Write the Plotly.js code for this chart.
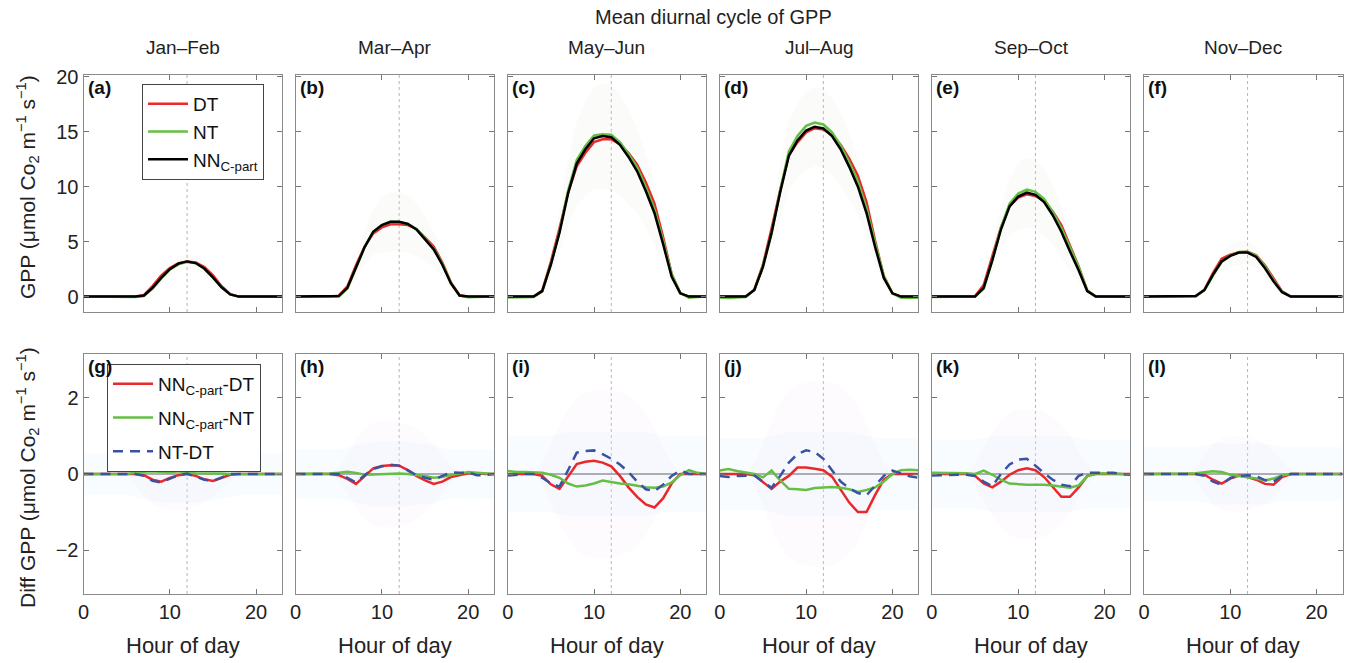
<!DOCTYPE html>
<html><head><meta charset="utf-8">
<script src="https://cdn.plot.ly/plotly-3.0.1.min.js"></script>
<style>html,body{margin:0;padding:0;background:#fff}#chart{width:1348px;height:663px}</style>
</head><body><div id="chart"></div>
<script>
// ---------- categories & ticks ----------
const hours = [0,1,2,3,4,5,6,7,8,9,10,11,12,13,14,15,16,17,18,19,20,21,22,23];
const periods = ["Jan–Feb","Mar–Apr","May–Jun","Jul–Aug","Sep–Oct","Nov–Dec"];
const topLetters = ["(a)","(b)","(c)","(d)","(e)","(f)"];
const bottomLetters = ["(g)","(h)","(i)","(j)","(k)","(l)"];
const hourTicks = [0,10,20];
const gppTicks = [0,5,10,15,20];
const diffTicks = [-2,0,2];

// ---------- GPP mean diurnal cycles ----------
const dtJanFeb = [0,0,0,0,0,0,0,0.13,0.95,1.9,2.6,3.03,3.2,3.1,2.69,1.93,0.95,0.22,0,0,0,0,0,0];
const ntJanFeb = [0,0,0,0,0,0,-0.03,0.04,0.73,1.65,2.46,2.93,3.17,3.03,2.53,1.73,0.84,0.2,0,0,0,0,0,0];
const nnJanFeb = [0,0,0,0,0,0,0,0.1,0.8,1.7,2.5,3.0,3.2,3.05,2.55,1.75,0.85,0.2,0,0,0,0,0,0];

const dtMarApr = [0,0,0,0,0,0.08,0.93,2.86,4.55,5.75,6.29,6.57,6.58,6.5,6.15,5.37,4.56,3.1,1.28,0.12,-0.02,-0.02,0,0];
const ntMarApr = [0,0,0,0,-0.01,0.02,0.74,2.57,4.52,5.91,6.5,6.8,6.79,6.6,6.13,5.25,4.4,2.98,1.23,0.08,-0.05,-0.03,-0.02,0];
const nnMarApr = [0,0,0,0,0,0.05,0.8,2.6,4.5,5.9,6.5,6.8,6.8,6.6,6.1,5.2,4.3,2.9,1.2,0.1,0,0,0,0];

const dtMayJun = [0,0,0,0,0.55,3.17,6.19,9.45,11.84,13.08,14.05,14.3,14.3,13.85,13.05,12.0,10.4,8.48,5.44,2.05,0.3,0,0,0];
const ntMayJun = [-0.08,-0.05,-0.05,-0.04,0.47,2.92,5.9,9.65,12.43,13.7,14.65,14.77,14.72,14.05,12.97,11.72,9.95,7.96,5.13,2.02,0.33,-0.1,-0.03,0];
const nnMayJun = [0,0,0,0,0.5,2.9,5.8,9.4,12.1,13.4,14.4,14.6,14.5,13.8,12.7,11.4,9.6,7.6,4.8,1.8,0.3,0,0,0];

const dtJulAug = [0,0,0,0,0.63,2.9,6.19,9.7,12.85,14.03,14.93,15.31,15.2,14.67,13.8,12.55,11.0,8.6,5.05,1.85,0.3,0,0,0];
const ntJulAug = [-0.09,-0.13,-0.08,-0.04,0.6,2.79,5.71,9.67,13.19,14.6,15.52,15.82,15.65,14.94,13.76,12.2,10.47,8.02,4.85,1.9,0.3,-0.1,-0.11,-0.1];
const nnJulAug = [0,0,0,0,0.6,2.7,5.8,9.5,12.8,14.2,15.1,15.45,15.3,14.6,13.4,11.8,10.0,7.6,4.5,1.7,0.3,0,0,0];

const dtSepOct = [0,0,0,0,0,0.05,1.05,3.65,6.3,8.22,9.0,9.3,9.15,8.68,7.75,6.5,4.7,2.75,0.55,0,0,0,0,0];
const ntSepOct = [-0.03,-0.03,-0.03,-0.02,-0.02,0,0.71,3.32,6.25,8.45,9.37,9.73,9.53,8.88,7.7,6.23,4.46,2.7,0.56,-0.02,-0.02,-0.01,0,0.02];
const nnSepOct = [0,0,0,0,0,0,0.8,3.3,6.1,8.2,9.1,9.45,9.25,8.6,7.4,5.9,4.1,2.4,0.5,0,0,0,0,0];

const dtNovDec = [0,0,0,0,0,0,0.05,0.62,2.15,3.45,3.82,4.04,4.08,3.75,2.86,1.68,0.48,0,0,0,0,0,0,0];
const ntNovDec = [0,0,0,0,0,-0.01,0.03,0.56,1.93,3.15,3.72,4.05,4.08,3.72,2.77,1.52,0.43,0,0,0,0,0,0,0];
const nnNovDec = [0,0,0,0,0,0,0.05,0.6,2.0,3.2,3.7,4.0,4.0,3.6,2.6,1.4,0.4,0,0,0,0,0,0,0];

// spread (shaded band) of GPP
const gppSpreadJanFeb = [0,0,0,0,0,0,0,0.1,0.3,0.5,0.6,0.7,0.7,0.7,0.6,0.5,0.3,0.1,0,0,0,0,0,0];
const gppSpreadMarApr = [0,0,0,0,0,0.1,0.4,1.0,1.6,2.1,2.5,2.7,2.7,2.6,2.4,2.1,1.6,1.1,0.5,0.1,0,0,0,0];
const gppSpreadMayJun = [0,0,0,0,0.3,1.0,2.0,3.0,3.8,4.3,4.6,4.8,4.8,4.6,4.3,3.9,3.4,2.8,1.9,0.9,0.2,0,0,0];
const gppSpreadJulAug = [0,0,0,0,0.3,1.0,1.8,2.6,3.1,3.4,3.6,3.6,3.6,3.5,3.3,3.0,2.6,2.1,1.5,0.7,0.2,0,0,0];
const gppSpreadSepOct = [0,0,0,0,0,0,0.4,1.2,2.0,2.6,3.0,3.2,3.2,3.0,2.7,2.3,1.8,1.1,0.4,0,0,0,0,0];
const gppSpreadNovDec = [0,0,0,0,0,0,0,0.2,0.5,0.8,1.0,1.1,1.1,1.0,0.8,0.5,0.2,0,0,0,0,0,0,0];

// ---------- differences ----------
const nnDtJanFeb = [0,0,0,0,0,0,0,-0.03,-0.15,-0.2,-0.1,-0.03,0,-0.05,-0.14,-0.18,-0.1,-0.02,0,0,0,0,0,0];
const nnDtMarApr = [0,0,0,0,0,-0.03,-0.13,-0.26,-0.05,0.15,0.21,0.23,0.22,0.1,-0.05,-0.17,-0.26,-0.2,-0.08,-0.02,0.02,0.02,0,0];
const nnDtMayJun = [0,0,0,0,-0.05,-0.27,-0.39,-0.05,0.26,0.32,0.35,0.3,0.2,-0.05,-0.35,-0.6,-0.8,-0.88,-0.64,-0.25,0,0,0,0];
const nnDtJulAug = [0,0,0,0,-0.03,-0.2,-0.39,-0.2,-0.05,0.17,0.17,0.14,0.1,-0.07,-0.4,-0.75,-1.0,-1.0,-0.55,-0.15,0,0,0,0];
const nnDtSepOct = [0,0,0,0,0,-0.05,-0.25,-0.35,-0.2,-0.02,0.1,0.15,0.1,-0.08,-0.35,-0.6,-0.6,-0.35,-0.05,0,0,0,0,0];
const nnDtNovDec = [0,0,0,0,0,0,0,-0.02,-0.15,-0.25,-0.12,-0.04,-0.08,-0.15,-0.26,-0.28,-0.08,0,0,0,0,0,0,0];

const nnNtJanFeb = [0,0,0,0,0,0,0.03,0.06,0.07,0.05,0.04,0.07,0.03,0.02,0.02,0.02,0.01,0,0,0,0,0,0,0];
const nnNtMarApr = [0,0,0,0,0.01,0.03,0.06,0.03,-0.02,-0.01,0,0,0.01,0,-0.03,-0.05,-0.1,-0.08,-0.03,0.02,0.05,0.03,0.02,0];
const nnNtMayJun = [0.08,0.05,0.05,0.04,0.03,-0.02,-0.1,-0.25,-0.33,-0.3,-0.25,-0.17,-0.22,-0.25,-0.27,-0.32,-0.35,-0.36,-0.33,-0.22,-0.03,0.1,0.03,0];
const nnNtJulAug = [0.09,0.13,0.08,0.04,0,-0.09,0.09,-0.17,-0.39,-0.4,-0.42,-0.37,-0.35,-0.34,-0.36,-0.4,-0.47,-0.42,-0.35,-0.2,0,0.1,0.11,0.1];
const nnNtSepOct = [0.03,0.03,0.03,0.02,0.02,0,0.09,-0.02,-0.15,-0.25,-0.27,-0.28,-0.28,-0.28,-0.3,-0.33,-0.36,-0.3,-0.06,0.02,0.02,0.01,0,-0.02];
const nnNtNovDec = [0,0,0,0,0,0.01,0.02,0.04,0.07,0.05,-0.02,-0.05,-0.08,-0.12,-0.17,-0.12,-0.03,0,0,0,0,0,0,0];

const ntDtJanFeb = [0,0,0,0,0,0,0,-0.05,-0.18,-0.22,-0.13,-0.03,0.01,-0.06,-0.15,-0.18,-0.08,0,0,0,0,0,0,0];
const ntDtMarApr = [0,0,0,0,0,0,-0.1,-0.22,-0.03,0.13,0.2,0.24,0.22,0.1,-0.03,-0.1,-0.15,-0.05,0.04,0.03,0.04,-0.03,-0.03,0];
const ntDtMayJun = [-0.04,-0.02,0,0,-0.1,-0.25,-0.33,0.1,0.56,0.6,0.62,0.52,0.4,0.25,0.05,-0.2,-0.4,-0.45,-0.28,-0.05,0.09,0,0,0];
const ntDtJulAug = [-0.05,-0.08,-0.05,-0.05,-0.04,-0.2,-0.36,-0.05,0.3,0.52,0.62,0.58,0.4,0.1,-0.2,-0.37,-0.5,-0.56,-0.3,-0.05,0.09,0.02,-0.06,-0.1];
const ntDtSepOct = [-0.04,-0.03,-0.03,-0.02,-0.02,-0.05,-0.2,-0.32,0,0.25,0.38,0.4,0.22,0.02,-0.15,-0.28,-0.32,-0.05,0.03,0.03,0.02,0.03,0,-0.02];
const ntDtNovDec = [0,0,0,0,0,0,0,-0.05,-0.2,-0.28,-0.1,-0.05,-0.03,-0.06,-0.16,-0.2,-0.05,0,0,0,0,0,0,0];

// spread bands of differences (half widths)
const diffSpreadAJanFeb = [0.55,0.55,0.55,0.55,0.55,0.55,0.6,0.65,0.7,0.75,0.75,0.75,0.75,0.75,0.7,0.7,0.65,0.6,0.55,0.55,0.55,0.55,0.55,0.55];
const diffSpreadAMarApr = [0.65,0.65,0.65,0.65,0.65,0.65,0.7,0.75,0.8,0.85,0.85,0.85,0.85,0.85,0.8,0.8,0.75,0.7,0.65,0.65,0.65,0.65,0.65,0.65];
const diffSpreadAMayJun = [1.0,1.0,1.0,1.0,1.0,1.0,1.05,1.1,1.1,1.1,1.1,1.1,1.1,1.1,1.1,1.1,1.1,1.05,1.0,1.0,1.0,1.0,1.0,1.0];
const diffSpreadAJulAug = [0.95,0.95,0.95,0.95,0.95,0.95,1.0,1.05,1.1,1.1,1.1,1.1,1.1,1.1,1.1,1.1,1.05,1.0,0.95,0.95,0.95,0.95,0.95,0.95];
const diffSpreadASepOct = [0.9,0.9,0.9,0.9,0.9,0.9,0.95,1.0,1.0,1.0,1.0,1.0,1.0,1.0,1.0,1.0,1.0,0.95,0.9,0.9,0.9,0.9,0.9,0.9];
const diffSpreadANovDec = [0.7,0.7,0.7,0.7,0.7,0.7,0.7,0.75,0.8,0.8,0.8,0.8,0.8,0.8,0.8,0.75,0.7,0.7,0.7,0.7,0.7,0.7,0.7,0.7];

const diffSpreadBJanFeb = [0,0,0,0,0,0,0.3,0.6,0.8,0.9,0.95,0.95,0.9,0.85,0.75,0.6,0.4,0.2,0,0,0,0,0,0];
const diffSpreadBMarApr = [0,0,0,0,0,0.2,0.5,0.9,1.2,1.35,1.4,1.4,1.35,1.3,1.2,1.0,0.8,0.5,0.2,0,0,0,0,0];
const diffSpreadBMayJun = [0,0,0,0,0.3,0.8,1.3,1.7,2.0,2.15,2.2,2.2,2.2,2.15,2.05,1.9,1.6,1.2,0.7,0.3,0,0,0,0];
const diffSpreadBJulAug = [0,0,0,0,0.3,0.8,1.4,1.9,2.2,2.35,2.4,2.45,2.45,2.4,2.3,2.1,1.8,1.3,0.8,0.3,0,0,0,0];
const diffSpreadBSepOct = [0,0,0,0,0,0.3,0.7,1.1,1.4,1.6,1.7,1.7,1.7,1.65,1.5,1.3,1.0,0.6,0.3,0,0,0,0,0];
const diffSpreadBNovDec = [0,0,0,0,0,0,0.2,0.5,0.8,0.95,1.0,1.0,0.95,0.9,0.8,0.6,0.35,0.1,0,0,0,0,0,0];

// ---------- assemble ----------
const DT = [dtJanFeb,dtMarApr,dtMayJun,dtJulAug,dtSepOct,dtNovDec];
const NT = [ntJanFeb,ntMarApr,ntMayJun,ntJulAug,ntSepOct,ntNovDec];
const NN = [nnJanFeb,nnMarApr,nnMayJun,nnJulAug,nnSepOct,nnNovDec];
const SD = [gppSpreadJanFeb,gppSpreadMarApr,gppSpreadMayJun,gppSpreadJulAug,gppSpreadSepOct,gppSpreadNovDec];
const NNDT = [nnDtJanFeb,nnDtMarApr,nnDtMayJun,nnDtJulAug,nnDtSepOct,nnDtNovDec];
const NNNT = [nnNtJanFeb,nnNtMarApr,nnNtMayJun,nnNtJulAug,nnNtSepOct,nnNtNovDec];
const NTDT = [ntDtJanFeb,ntDtMarApr,ntDtMayJun,ntDtJulAug,ntDtSepOct,ntDtNovDec];
const SA = [diffSpreadAJanFeb,diffSpreadAMarApr,diffSpreadAMayJun,diffSpreadAJulAug,diffSpreadASepOct,diffSpreadANovDec];
const SB = [diffSpreadBJanFeb,diffSpreadBMarApr,diffSpreadBMayJun,diffSpreadBJulAug,diffSpreadBSepOct,diffSpreadBNovDec];

const W = 1348, H = 663;
const colL = i => 83.5 + 212.1*i, colW = 198.5;
const topPx = [75, 312], botPx = [354, 594];
const FONT = "Liberation Sans, Arial, Helvetica, sans-serif";
const RED = "#e8282b", GREEN = "#66bf45", BLUE = "#3953a3";

const traces = [], shapes = [], annotations = [];
const layout = {
  width: W, height: H, margin: {l:0,r:0,t:0,b:0},
  paper_bgcolor: "#fff", plot_bgcolor: "#fff",
  font: {family: FONT, size: 19, color: "#222"},
  showlegend: true
};
const xr = hours.concat(hours.slice().reverse());
function band(ax, upper, lower, color){
  return {x: xr, y: upper.concat(lower.slice().reverse()), type:"scatter", mode:"lines",
    fill:"toself", fillcolor: color, line:{width:0}, hoverinfo:"skip", showlegend:false,
    xaxis: "x"+ax, yaxis: "y"+ax};
}
for (let r = 0; r < 2; r++) {
  for (let c = 0; c < 6; c++) {
    const k = r*6 + c + 1;
    const sfx = k === 1 ? "" : String(k);
    const px = r === 0 ? topPx : botPx;
    layout["xaxis"+sfx] = {
      domain: [colL(c)/W, (colL(c)+colW)/W], anchor: "y"+sfx, range: [0,23],
      tickvals: hourTicks, showticklabels: r === 1, ticks: "inside", ticklen: 5,
      tickcolor: "#777", showline: true, linecolor: "#8a8a8a", linewidth: 1, mirror: "ticks",
      showgrid: false, zeroline: false, tickfont: {size: 20, color:"#222"}, fixedrange: true
    };
    layout["yaxis"+sfx] = {
      domain: [1-px[1]/H, 1-px[0]/H], anchor: "x"+sfx,
      range: r === 0 ? [-1.4, 20.15] : [-3.15, 3.15],
      tickvals: r === 0 ? gppTicks : diffTicks, showticklabels: c === 0,
      ticks: "inside", ticklen: 5, tickcolor: "#777", showline: true, linecolor: "#8a8a8a",
      linewidth: 1, mirror: "ticks", showgrid: false, zeroline: false,
      tickfont: {size: 20, color:"#222"}, fixedrange: true
    };
    const ax = sfx;
    shapes.push({type:"line", xref:"x"+ax, yref:"y"+ax+" domain", x0:12, x1:12, y0:0, y1:1,
      line:{color:"#b5b5b5", width:1, dash:"dot"}, layer:"below"});
    if (r === 0) {
      const up = NN[c].map((v,i)=>v+SD[c][i]), lo = NN[c].map((v,i)=>v-SD[c][i]);
      traces.push(band(ax, up, lo, "rgba(232,236,222,0.16)"));
      const leg = c === 0;
      traces.push({x:hours, y:DT[c], type:"scatter", mode:"lines", name:"DT", legend:"legend",
        legendgroup:"g1", line:{color:RED, width:2.5}, showlegend:leg, xaxis:"x"+ax, yaxis:"y"+ax});
      traces.push({x:hours, y:NT[c], type:"scatter", mode:"lines", name:"NT", legend:"legend",
        legendgroup:"g2", line:{color:GREEN, width:2.5}, showlegend:leg, xaxis:"x"+ax, yaxis:"y"+ax});
      traces.push({x:hours, y:NN[c], type:"scatter", mode:"lines", name:"NN<sub>C-part</sub>", legend:"legend",
        legendgroup:"g3", line:{color:"#000", width:2.5}, showlegend:leg, xaxis:"x"+ax, yaxis:"y"+ax});
      annotations.push({xref:"paper", yref:"paper", x:(colL(c)+colW/2)/W, y:1-48/H,
        text:periods[c], showarrow:false, xanchor:"center", yanchor:"middle", font:{size:19}});
      annotations.push({xref:"paper", yref:"paper", x:(colL(c)+2)/W, y:1-(px[0])/H,
        text:"<b>"+topLetters[c]+"</b>", showarrow:false, xanchor:"left", yanchor:"top", font:{size:19, color:"#111"}});
    } else {
      traces.push(band(ax, SB[c], SB[c].map(v=>-v), "rgba(240,232,246,0.16)"));
      traces.push(band(ax, SA[c], SA[c].map(v=>-v), "rgba(226,238,250,0.2)"));
      shapes.push({type:"line", xref:"x"+ax+" domain", yref:"y"+ax, x0:0, x1:1, y0:0, y1:0,
        line:{color:"#222", width:1}, layer:"below"});
      const leg = c === 0;
      traces.push({x:hours, y:NNDT[c], type:"scatter", mode:"lines", name:"NN<sub>C-part</sub>-DT", legend:"legend2",
        legendgroup:"h1", line:{color:RED, width:2.5}, showlegend:leg, xaxis:"x"+ax, yaxis:"y"+ax});
      traces.push({x:hours, y:NNNT[c], type:"scatter", mode:"lines", name:"NN<sub>C-part</sub>-NT", legend:"legend2",
        legendgroup:"h2", line:{color:GREEN, width:2.5}, showlegend:leg, xaxis:"x"+ax, yaxis:"y"+ax});
      traces.push({x:hours, y:NTDT[c], type:"scatter", mode:"lines", name:"NT-DT", legend:"legend2",
        legendgroup:"h3", line:{color:BLUE, width:2.5, dash:"10px,7px"}, showlegend:leg, xaxis:"x"+ax, yaxis:"y"+ax});
      annotations.push({xref:"paper", yref:"paper", x:(colL(c)+2)/W, y:1-(px[0])/H,
        text:"<b>"+bottomLetters[c]+"</b>", showarrow:false, xanchor:"left", yanchor:"top", font:{size:19, color:"#111"}});
      annotations.push({xref:"paper", yref:"paper", x:(colL(c)+colW/2)/W, y:1-645/H,
        text:"Hour of day", showarrow:false, xanchor:"center", yanchor:"middle", font:{size:22}});
    }
  }
}
annotations.push({xref:"paper", yref:"paper", x:713/W, y:1-17/H, text:"Mean diurnal cycle of GPP",
  showarrow:false, xanchor:"center", yanchor:"middle", font:{size:20}});
annotations.push({xref:"paper", yref:"paper", x:27/W, y:1-187/H, textangle:-90,
  text:"GPP (μmol Co<sub>2</sub> m<sup>−1</sup> s<sup>−1</sup>)", showarrow:false,
  xanchor:"center", yanchor:"middle", font:{size:21}});
annotations.push({xref:"paper", yref:"paper", x:27/W, y:1-478/H, textangle:-90,
  text:"Diff GPP (μmol Co<sub>2</sub> m<sup>−1</sup> s<sup>−1</sup>)", showarrow:false,
  xanchor:"center", yanchor:"middle", font:{size:21}});

layout.shapes = shapes;
layout.annotations = annotations;
const legBase = {xanchor:"left", yanchor:"top", bgcolor:"#fff", bordercolor:"#444", borderwidth:1,
  font:{size:19, color:"#111"}, traceorder:"grouped", itemwidth:40};
layout.legend = Object.assign({}, legBase, {x:142/W, y:1-84/H, tracegroupgap:0});
layout.legend2 = Object.assign({}, legBase, {x:107/W, y:1-364/H, tracegroupgap:6});

Plotly.newPlot("chart", traces, layout, {displayModeBar:false, staticPlot:true});
</script></body></html>
